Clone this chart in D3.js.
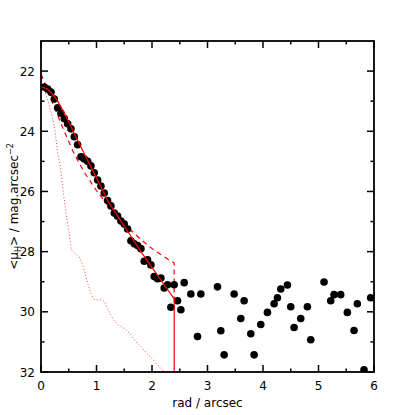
<!DOCTYPE html>
<html><head><meta charset="utf-8">
<script src="https://cdn.jsdelivr.net/npm/d3@7"></script>
<style>body{margin:0;background:#fff}svg{display:block}text{font-family:"DejaVu Sans",sans-serif}</style>
</head><body>
<script>
// Observed profile: radius (arcsec) and surface brightness (mag/arcsec^2)
const obsRad = [0.06,0.12,0.18,0.24,0.30,0.36,0.42,0.48,0.54,0.60,0.66,0.72,0.78,0.84,0.90,0.96,1.02,1.08,1.14,1.20,1.26,1.32,1.38,1.44,1.50,1.56,1.62,1.68,1.74,1.80,1.86,1.92,1.98,2.04,2.10,2.16,2.22,2.28,2.34,2.40,2.46,2.52,2.58,2.70,2.82,2.88,3.18,3.24,3.30,3.48,3.60,3.66,3.78,3.84,3.96,4.08,4.20,4.26,4.32,4.44,4.50,4.56,4.68,4.80,4.86,5.10,5.22,5.28,5.40,5.52,5.64,5.70,5.82,5.94];
const obsMu  = [22.53,22.60,22.70,22.93,23.22,23.40,23.58,23.75,23.92,24.18,24.45,24.85,24.92,25.00,25.15,25.38,25.62,25.82,26.05,26.30,26.48,26.72,26.82,26.98,27.08,27.25,27.64,27.74,27.80,27.90,28.32,28.27,28.44,28.83,28.90,28.88,29.21,29.10,29.85,29.10,29.63,29.93,29.03,29.41,30.82,29.41,29.17,30.63,31.43,29.41,30.22,29.63,30.73,31.43,30.42,30.02,29.73,29.53,29.24,29.11,29.83,30.52,30.22,29.83,30.93,29.01,29.63,29.43,29.43,30.02,30.62,29.73,31.93,29.53];
// Total model (solid)
const modelRad = [0,0.1,0.2,0.3,0.4,0.5,0.6,0.7,0.8,1.0,1.2,1.4,1.6,1.8,2.0,2.2,2.4,2.4];
const modelMu  = [22.53,22.58,22.75,23.0,23.33,23.68,24.08,24.45,24.82,25.55,26.3,26.87,27.43,28.0,28.52,29.05,29.57,32];
// Component (dashed)
const dashRad = [0,0.1,0.2,0.3,0.4,0.5,0.6,0.7,0.8,0.9,1.0,1.2,1.4,1.6,1.8,2.0,2.2,2.4,2.4];
const dashMu  = [22.1,22.55,23.02,23.47,23.92,24.35,24.75,25.1,25.42,25.7,25.97,26.45,26.87,27.25,27.6,27.9,28.15,28.38,29.57];
// Component (dotted)
const dotRad = [0,0.05,0.1,0.15,0.2,0.25,0.3,0.35,0.4,0.45,0.5,0.55,0.6,0.7,0.75,0.8,0.85,0.9,0.95,1.0,1.1,1.15,1.2,1.3,1.4,1.5,1.6,1.7,1.8,1.9,2.0,2.1,2.2,2.25];
const dotMu  = [22.45,22.6,22.85,23.15,23.5,23.95,24.7,25.2,26.0,26.7,27.3,27.95,28.05,28.2,28.45,28.75,29.1,29.4,29.58,29.6,29.6,29.68,29.9,30.25,30.45,30.55,30.72,30.98,31.15,31.38,31.55,31.75,31.97,32.1];
const xTicks = [0,1,2,3,4,5,6];
const yTicks = [22,24,26,28,30,32];
const xMinor = [0.5,1.5,2.5,3.5,4.5,5.5];
const yMinor = [23,25,27,29,31];

const W=415,H=415, L=41,R=374,T=41,B=372;
const svg=d3.select("body").append("svg").attr("width",W).attr("height",H);
const x=d3.scaleLinear().domain([0,6]).range([L,R]);
const y=d3.scaleLinear().domain([21,32]).range([T,B]);

svg.append("defs").append("clipPath").attr("id","c").append("rect")
  .attr("x",L).attr("y",T).attr("width",R-L).attr("height",B-T);
const g=svg.append("g").attr("clip-path","url(#c)");

const line=d3.line().x(d=>x(d[0])).y(d=>y(d[1]));
g.append("path").datum(dotRad.map((r,i)=>[r,dotMu[i]])).attr("d",line)
  .attr("fill","none").attr("stroke","#ff4040").attr("stroke-width",1).attr("stroke-dasharray","1,2.2");
g.append("path").datum(dashRad.map((r,i)=>[r,dashMu[i]])).attr("d",line)
  .attr("fill","none").attr("stroke","#ff0000").attr("stroke-width",1.2).attr("stroke-dasharray","5,4");
g.selectAll("circle").data(obsRad.map((r,i)=>[r,obsMu[i]])).join("circle")
  .attr("cx",d=>x(d[0])).attr("cy",d=>y(d[1])).attr("r",3.8).attr("fill","#000");
g.append("path").datum(modelRad.map((r,i)=>[r,modelMu[i]])).attr("d",line)
  .attr("fill","none").attr("stroke","#ff0000").attr("stroke-width",1.2);

// axes with inward ticks on all sides
const ax=svg.append("g").attr("stroke","#000").attr("stroke-width",1.5);
function tk(list,len){
  list.forEach(v=>{
    ax.append("line").attr("x1",x(v)).attr("x2",x(v)).attr("y1",B).attr("y2",B-len);
    ax.append("line").attr("x1",x(v)).attr("x2",x(v)).attr("y1",T).attr("y2",T+len);
  });
}
function tky(list,len){
  list.forEach(v=>{
    ax.append("line").attr("y1",y(v)).attr("y2",y(v)).attr("x1",L).attr("x2",L+len);
    ax.append("line").attr("y1",y(v)).attr("y2",y(v)).attr("x1",R).attr("x2",R-len);
  });
}
tk(xTicks,7); tk(xMinor,3.5); tky(yTicks,7); tky(yMinor,3.5);
ax.append("rect").attr("x",L).attr("y",T).attr("width",R-L).attr("height",B-T).attr("fill","none").attr("stroke-width",1.8);

svg.selectAll("text.xt").data(xTicks).join("text").attr("class","xt")
  .attr("x",d=>x(d)).attr("y",390).attr("text-anchor","middle").attr("font-size",12).text(d=>d);
svg.selectAll("text.yt").data(yTicks).join("text").attr("class","yt")
  .attr("x",35).attr("y",d=>y(d)+4.5).attr("text-anchor","end").attr("font-size",12).text(d=>d);
svg.append("text").attr("x",(L+R)/2).attr("y",407).attr("text-anchor","middle").attr("font-size",12).text("rad / arcsec");
const yl=svg.append("text").attr("transform",`translate(18,${(T+B)/2}) rotate(-90)`).attr("text-anchor","middle").attr("font-size",12);
yl.append("tspan").text("<μ");
yl.append("tspan").attr("font-size",8).attr("dy",3).text("H");
yl.append("tspan").attr("dy",-3).text("> / mag.arcsec");
yl.append("tspan").attr("font-size",8).attr("dy",-5).text("−2");
</script>
</body></html>
